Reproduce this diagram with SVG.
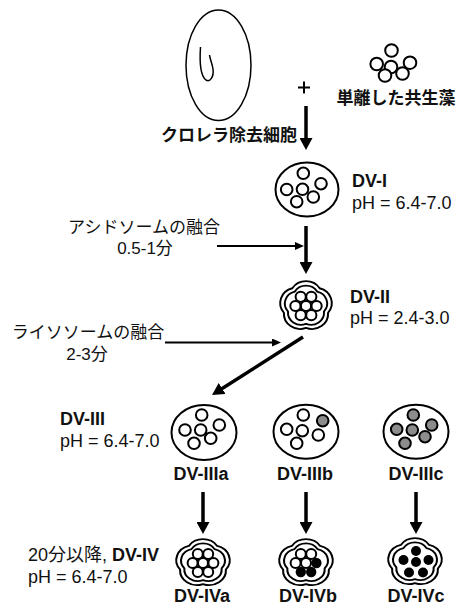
<svg xmlns="http://www.w3.org/2000/svg" width="467" height="610" viewBox="0 0 467 610">
  <style>
    text { font-family: "Liberation Sans", "Noto Sans CJK JP", sans-serif; font-size: 18px; fill: #111; }
    .b { font-weight: bold; }
    .jp { font-size: 17px; }
    .mid { text-anchor: middle; }
    .end { text-anchor: end; }
    .vac { fill: #fff; stroke: #000; stroke-width: 2; }
    .alg { fill: #fff; stroke: #000; stroke-width: 2; }
    .grey { fill: #8c8c8c; }
    .dot { fill: #000; stroke: none; }
    .fl { fill: #fff; stroke: #000; stroke-width: 1.8; stroke-linejoin: round; }
    .thick { stroke: #000; stroke-width: 3.5; fill: none; }
    .thin { stroke: #000; stroke-width: 2; fill: none; }
  </style>
  <defs>
    <marker id="headL" markerUnits="userSpaceOnUse" markerWidth="13" markerHeight="13" refX="6" refY="6.5" orient="auto">
      <path d="M0,0 L12,6.5 L0,13 Z" fill="#000"/>
    </marker>
    <marker id="headS" markerUnits="userSpaceOnUse" markerWidth="10" markerHeight="9" refX="4.5" refY="4" orient="auto">
      <path d="M0,0 L9,4 L0,8 Z" fill="#000"/>
    </marker>
    <!-- five-lobed vacuole with double membrane -->
    <g id="flower">
      <path class="fl" d="M-12.64,-17.39 A15,15 0 0 1 12.64,-17.39 A15,15 0 0 1 20.45,6.64 A15,15 0 0 1 0,21.5 A15,15 0 0 1 -20.45,6.64 A15,15 0 0 1 -12.64,-17.39 Z"/>
      <path class="fl" d="M-10.29,-14.16 A12,12 0 0 1 10.29,-14.16 A12,12 0 0 1 16.64,5.41 A12,12 0 0 1 0,17.5 A12,12 0 0 1 -16.64,5.41 A12,12 0 0 1 -10.29,-14.16 Z"/>
    </g>
  </defs>

  <!-- host cell without chlorella -->
  <g id="host-cell">
    <ellipse cx="218.5" cy="65.3" rx="32.5" ry="55.3" fill="none" stroke="#000" stroke-width="1.5"/>
    <path d="M200.5,47 C199.5,62 200.5,76 206,80 C210,82.5 214,77 213,69 C212,63 210,59 209.5,55" fill="none" stroke="#000" stroke-width="1.5"/>
    <text class="b jp end" x="297" y="141">クロレラ除去細胞</text>
  </g>

  <!-- plus sign -->
  <g id="plus">
    <path d="M298,87.5 H310 M304,81.5 V93.5" stroke="#000" stroke-width="2"/>
  </g>

  <!-- isolated symbiotic algae -->
  <g id="algae">
    <circle class="alg" cx="391.5" cy="50.5" r="6.3"/>
    <circle class="alg" cx="376.7" cy="64" r="6.3"/>
    <circle class="alg" cx="391" cy="67" r="6.3"/>
    <circle class="alg" cx="410" cy="62.7" r="6.3"/>
    <circle class="alg" cx="385" cy="75.5" r="6.3"/>
    <circle class="alg" cx="402.5" cy="73.5" r="6.3"/>
    <text class="b jp mid" x="396" y="104">単離した共生藻</text>
  </g>

  <!-- DV-I -->
  <g id="dv-1">
    <ellipse cx="307" cy="189.5" rx="31.5" ry="27" fill="#fff" stroke="#000" stroke-width="2"/>
    <circle class="vac" cx="303.3" cy="173.3" r="5.8"/>
    <circle class="vac" cx="286.7" cy="189.5" r="5.8"/>
    <circle class="vac" cx="302.5" cy="189.3" r="5.8"/>
    <circle class="vac" cx="321" cy="183.7" r="5.8"/>
    <circle class="vac" cx="296.7" cy="201.7" r="5.8"/>
    <circle class="vac" cx="313.3" cy="197" r="5.8"/>
    <text class="b" x="352" y="186.5">DV-I</text>
    <text x="352" y="208.5">pH = 6.4-7.0</text>
  </g>

  <!-- DV-II -->
  <g id="dv-2">
    <use href="#flower" transform="translate(306,306) scale(1.08,1.02)"/>
    <g transform="translate(306,306)">
      <circle class="vac" cx="0" cy="0" r="5.1" stroke-width="1.8"/>
      <circle class="vac" cx="10.6" cy="0" r="5.1" stroke-width="1.8"/>
      <circle class="vac" cx="5.3" cy="9.2" r="5.1" stroke-width="1.8"/>
      <circle class="vac" cx="-5.3" cy="9.2" r="5.1" stroke-width="1.8"/>
      <circle class="vac" cx="-10.6" cy="0" r="5.1" stroke-width="1.8"/>
      <circle class="vac" cx="-5.3" cy="-9.2" r="5.1" stroke-width="1.8"/>
      <circle class="vac" cx="5.3" cy="-9.2" r="5.1" stroke-width="1.8"/>
    </g>
    <text class="b" x="350" y="302.5">DV-II</text>
    <text x="350" y="323.5">pH = 2.4-3.0</text>
  </g>

  <!-- process labels -->
  <g id="acidosome-label">
    <text class="jp mid" x="144" y="233">アシドソームの融合</text>
    <text class="jp mid" x="145" y="254">0.5-1分</text>
  </g>
  <g id="lysosome-label">
    <text class="jp mid" x="88" y="338">ライソソームの融合</text>
    <text class="jp mid" x="87" y="360">2-3分</text>
  </g>

  <!-- DV-III -->
  <g id="dv-3-label">
    <text class="b" x="60" y="425">DV-III</text>
    <text x="60" y="446.5">pH = 6.4-7.0</text>
  </g>
  <g id="dv-3a">
    <ellipse cx="204" cy="432.5" rx="32.5" ry="27.5" fill="#fff" stroke="#000" stroke-width="2"/>
    <circle class="vac" cx="201.7" cy="415" r="5.8"/>
    <circle class="vac" cx="185" cy="430" r="5.8"/>
    <circle class="vac" cx="200.7" cy="430" r="5.8"/>
    <circle class="vac" cx="219.3" cy="425" r="5.8"/>
    <circle class="vac" cx="194" cy="443.3" r="5.8"/>
    <circle class="vac" cx="210.7" cy="438.3" r="5.8"/>
    <text class="b mid" x="201" y="480">DV-IIIa</text>
  </g>
  <g id="dv-3b">
    <ellipse cx="306" cy="431.7" rx="32.5" ry="27" fill="#fff" stroke="#000" stroke-width="2"/>
    <circle class="vac" cx="303.3" cy="415" r="5.8"/>
    <circle class="vac" cx="286.7" cy="429.3" r="5.8"/>
    <circle class="vac" cx="302.3" cy="430.7" r="5.8"/>
    <circle class="vac grey" cx="322.7" cy="420.7" r="5.8"/>
    <circle class="vac" cx="296.7" cy="443.3" r="5.8"/>
    <circle class="vac" cx="318.3" cy="435" r="5.8"/>
    <text class="b mid" x="305" y="480">DV-IIIb</text>
  </g>
  <g id="dv-3c">
    <ellipse cx="416" cy="431.7" rx="32.5" ry="27" fill="#fff" stroke="#000" stroke-width="2"/>
    <circle class="vac grey" cx="413.3" cy="415" r="5.8"/>
    <circle class="vac grey" cx="396.7" cy="429.3" r="5.8"/>
    <circle class="vac grey" cx="412.3" cy="430" r="5.8"/>
    <circle class="vac grey" cx="431.7" cy="425" r="5.8"/>
    <circle class="vac grey" cx="405" cy="443.3" r="5.8"/>
    <circle class="vac grey" cx="425" cy="436.7" r="5.8"/>
    <text class="b mid" x="416" y="480">DV-IIIc</text>
  </g>

  <!-- DV-IV -->
  <g id="dv-4-label">
    <text x="28" y="561">20分以降, <tspan class="b">DV-IV</tspan></text>
    <text x="28" y="583">pH = 6.4-7.0</text>
  </g>
  <g id="dv-4a">
    <use href="#flower" transform="translate(203,563) scale(1.12,0.98)"/>
    <g transform="translate(203,563)">
      <circle class="vac" cx="0" cy="0" r="5" stroke-width="1.8"/>
      <circle class="vac" cx="10.4" cy="0" r="5" stroke-width="1.8"/>
      <circle class="vac" cx="5.2" cy="9" r="5" stroke-width="1.8"/>
      <circle class="vac" cx="-5.2" cy="9" r="5" stroke-width="1.8"/>
      <circle class="vac" cx="-10.4" cy="0" r="5" stroke-width="1.8"/>
      <circle class="vac" cx="-5.2" cy="-9" r="5" stroke-width="1.8"/>
      <circle class="vac" cx="5.2" cy="-9" r="5" stroke-width="1.8"/>
    </g>
    <text class="b mid" x="202" y="602">DV-IVa</text>
  </g>
  <g id="dv-4b">
    <use href="#flower" transform="translate(306,563) scale(1.12,0.98)"/>
    <g transform="translate(306,563)">
      <circle class="vac" cx="0" cy="0" r="5" stroke-width="1.8"/>
      <circle class="dot" cx="10.4" cy="0" r="5.2"/>
      <circle class="dot" cx="5.2" cy="9" r="5.2"/>
      <circle class="dot" cx="-5.2" cy="9" r="5.2"/>
      <circle class="vac" cx="-10.4" cy="0" r="5" stroke-width="1.8"/>
      <circle class="vac" cx="-5.2" cy="-9" r="5" stroke-width="1.8"/>
      <circle class="vac" cx="5.2" cy="-9" r="5" stroke-width="1.8"/>
    </g>
    <text class="b mid" x="308" y="602">DV-IVb</text>
  </g>
  <g id="dv-4c">
    <use href="#flower" transform="translate(415,562) scale(1.12,0.98)"/>
    <g transform="translate(415,562)">
      <circle class="dot" cx="1" cy="-11" r="5"/>
      <circle class="dot" cx="-11.5" cy="-2" r="5"/>
      <circle class="dot" cx="1" cy="0" r="5"/>
      <circle class="dot" cx="13.5" cy="-2" r="5"/>
      <circle class="dot" cx="-6" cy="10.5" r="5"/>
      <circle class="dot" cx="8" cy="10.5" r="5"/>
    </g>
    <text class="b mid" x="416" y="602">DV-IVc</text>
  </g>

  <!-- connectors -->
  <g id="connectors">
    <line class="thick" x1="306" y1="106" x2="306" y2="144" marker-end="url(#headL)"/>
    <line class="thick" x1="306" y1="226" x2="306" y2="268" marker-end="url(#headL)"/>
    <line class="thin" x1="217" y1="246" x2="299.5" y2="246" marker-end="url(#headS)"/>
    <line class="thin" x1="165" y1="342.5" x2="276.5" y2="342.5" marker-end="url(#headS)"/>
    <line class="thick" x1="303" y1="337" x2="217.1" y2="391.8" marker-end="url(#headL)"/>
    <line class="thick" x1="203" y1="492" x2="203" y2="528" marker-end="url(#headL)"/>
    <line class="thick" x1="306" y1="492" x2="306" y2="528" marker-end="url(#headL)"/>
    <line class="thick" x1="416" y1="492" x2="416" y2="528" marker-end="url(#headL)"/>
  </g>
</svg>
